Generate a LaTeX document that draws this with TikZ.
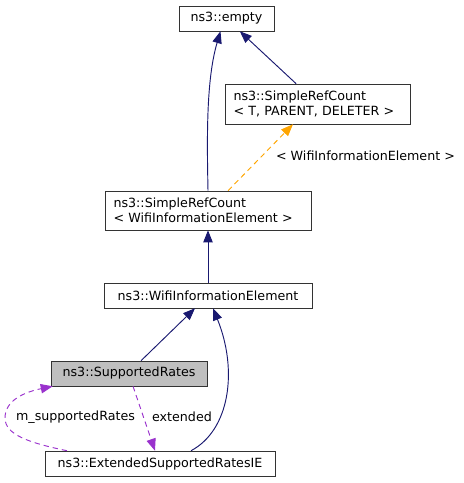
\documentclass[tikz,border=0pt]{standalone}
\usepackage{fontspec}
\setmainfont{DejaVu Sans}
\usetikzlibrary{arrows.meta}

\definecolor{edgeblue}{RGB}{25,25,112}
\definecolor{edgeorange}{RGB}{255,165,0}
\definecolor{edgepurple}{RGB}{154,50,205}
\definecolor{boxgrey}{RGB}{191,191,191}

\tikzset{
	cls/.style={draw=black!80, fill=white, inner sep=0pt, font=\fontsize{9.5}{11.25}\selectfont},
	clstwo/.style={cls, align=left, text width=#1, inner xsep=6.4pt},
	inherit/.style={draw=edgeblue, line width=0.7pt, -{Triangle[length=9pt,width=7pt]}},
	tmpl/.style={draw=edgeorange, line width=0.7pt, dash pattern=on 4pt off 3pt, -{Triangle[length=9pt,width=7pt]}},
	member/.style={draw=edgepurple, line width=0.7pt, dash pattern=on 4pt off 3pt, -{Triangle[length=9pt,width=7pt]}},
	lbl/.style={font=\fontsize{9.5}{11}\selectfont, inner sep=0pt}
}

\begin{document}
\begin{tikzpicture}[x=0.75pt,y=-0.75pt]
			\useasboundingbox (0,0) rectangle (464,483);

			% classes
			\node[cls, minimum width=71.25pt, minimum height=18.75pt] (empty) at (226.5,18.5) {ns3::empty};
			\node[clstwo=126pt, minimum height=30pt] (tpd) at (317.5,104) {ns3::SimpleRefCount\\< T, PARENT, DELETER >};
			\node[clstwo=141.7pt, minimum height=29.25pt] (srcwie) at (208,210.5) {ns3::SimpleRefCount\\< WifiInformationElement >};
			\node[cls, minimum width=156pt, minimum height=18.75pt] (wie) at (208,295.5) {ns3::WifiInformationElement};
			\node[cls, fill=boxgrey, minimum width=117pt, minimum height=18.75pt] (sr) at (129,373.5) {ns3::SupportedRates};
			\node[cls, minimum width=172.5pt, minimum height=18.75pt] (esr) at (160,463.5) {ns3::ExtendedSupportedRatesIE};

			% inheritance
			\draw[inherit] (srcwie.north) .. controls (207,140) and (206,80) .. ([xshift=-4.5pt]empty.south);
			\draw[inherit] ([xshift=-16pt]tpd.north) -- ([xshift=10pt]empty.south);
			\draw[inherit] (wie.north) -- (srcwie.south);
			\draw[inherit] ([xshift=9pt]sr.north) -- ([xshift=-9.75pt]wie.south);
			\draw[inherit] ([xshift=23.25pt]esr.north) .. controls (230,430) and (238,370) .. ([xshift=3.75pt]wie.south);

			% template instance
			\draw[tmpl] ([xshift=15pt]srcwie.north) -- ([xshift=-18.4pt]tpd.south);
			\node[lbl] (tmpllbl) at (365.5,156) {< WifiInformationElement >};

			% members
			\draw[member] ([xshift=-69.75pt]esr.north) .. controls (30,443) and (5,435) .. (5,418)
				.. controls (5,400) and (25,392) .. ([xshift=1.5pt]sr.south west);
			\node[lbl] (mlbl) at (75.5,417) {m\_supportedRates};
			\draw[member] ([xshift=3pt]sr.south) -- ([xshift=-3.75pt]esr.north);
			\node[lbl] (extlbl) at (182,417) {extended};
		\end{tikzpicture}
\end{document}
